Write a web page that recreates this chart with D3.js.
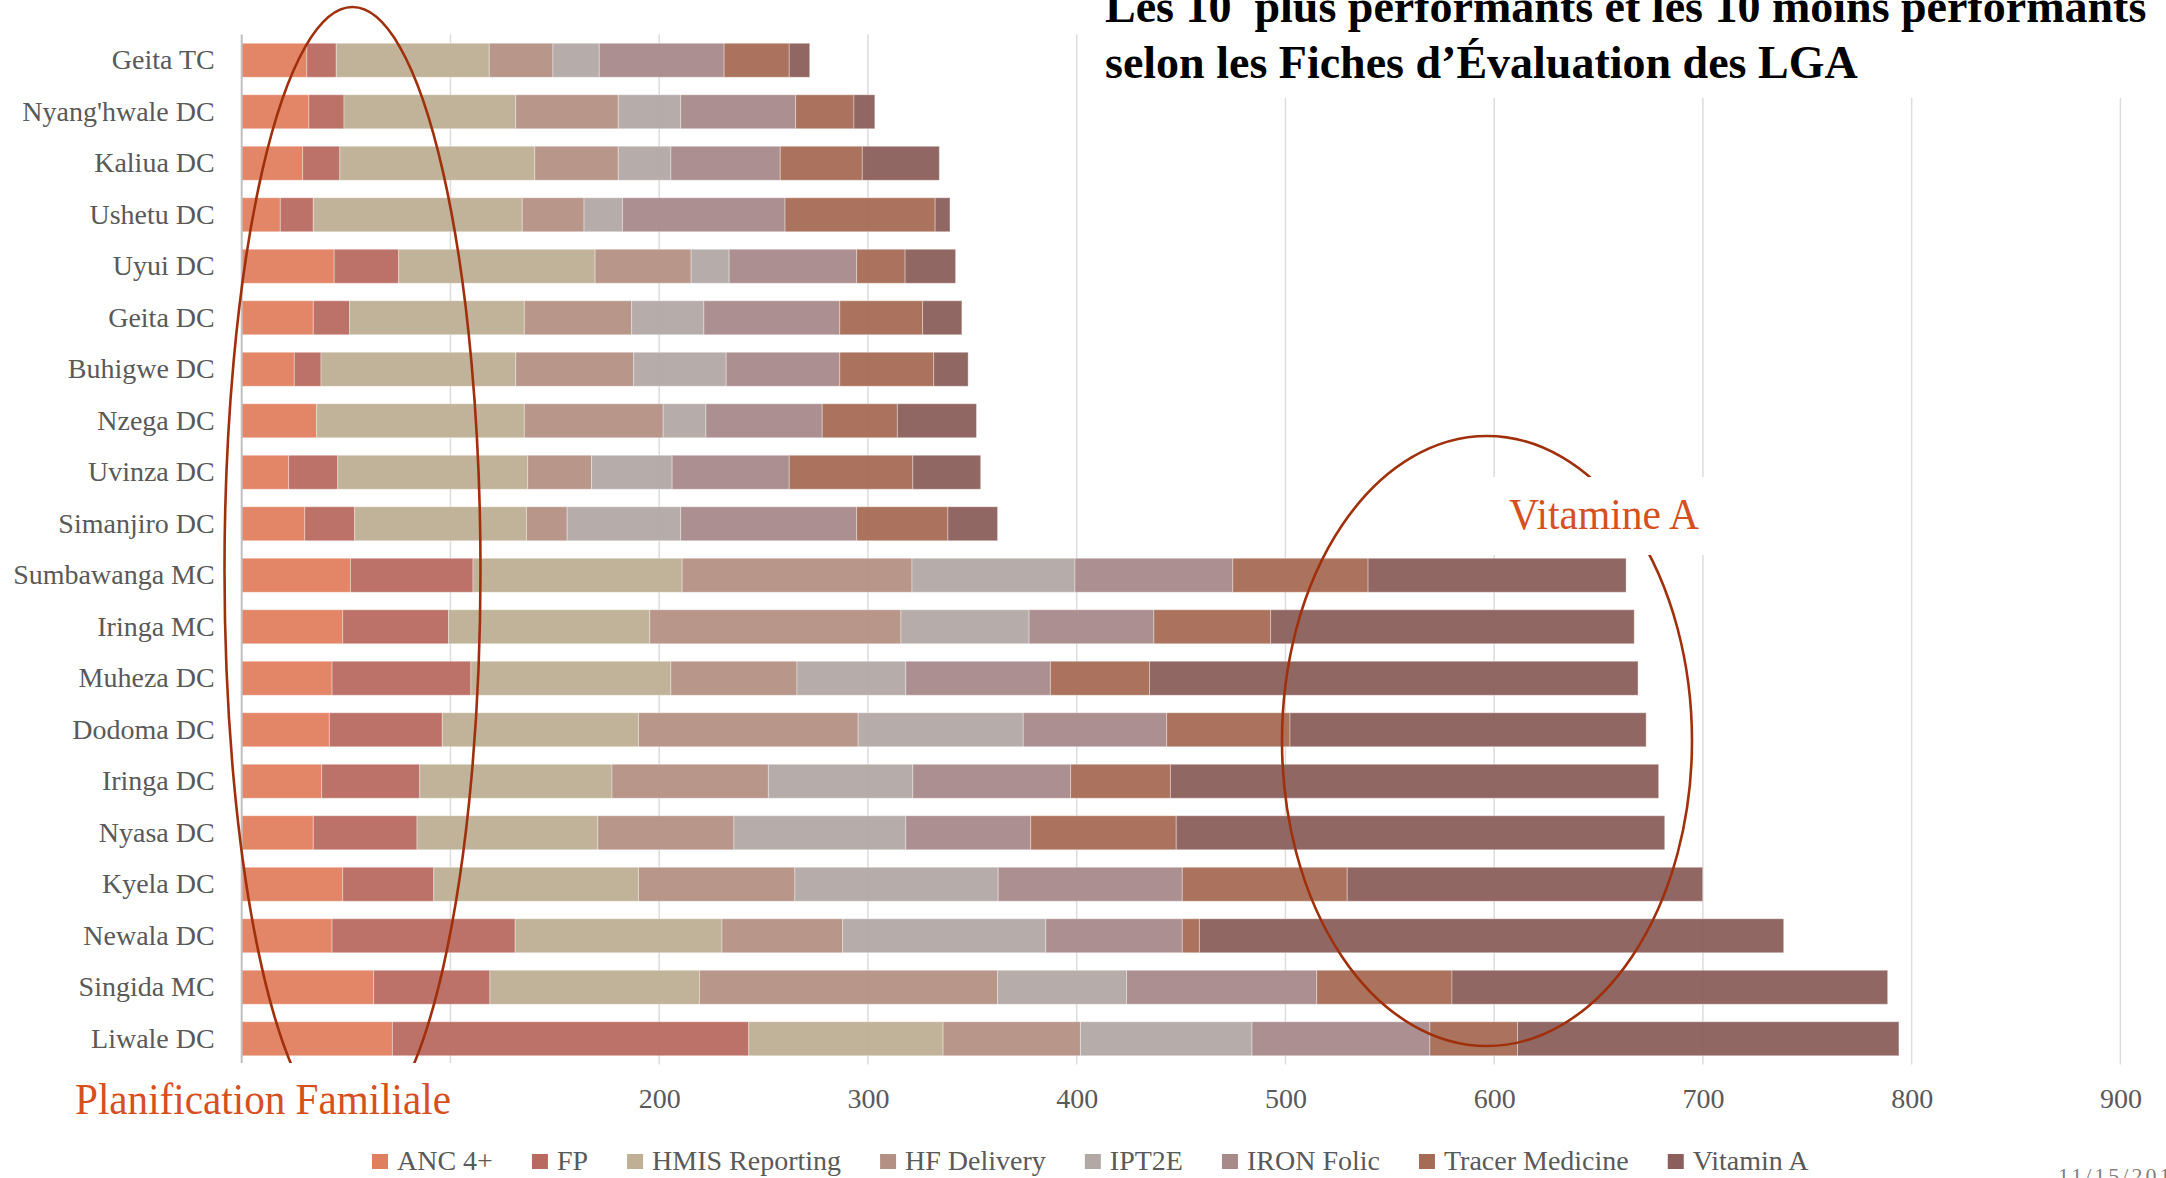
<!DOCTYPE html>
<html lang="fr">
<head>
<meta charset="utf-8">
<title>Fiches d'Évaluation des LGA</title>
<script src="https://cdn.jsdelivr.net/npm/d3@7"></script>
<style>
  html, body { margin: 0; padding: 0; background: #ffffff; overflow: hidden; }
  svg { display: block; }
  text { font-family: "Liberation Serif", "DejaVu Serif", serif; }
</style>
</head>
<body>
<svg id="chart" width="2166" height="1178"></svg>
<script>
// LGA names, top to bottom: the 10 best performers first, then the 10 weakest
const categories = [
  "Geita TC", "Nyang'hwale DC", "Kaliua DC", "Ushetu DC", "Uyui DC",
  "Geita DC", "Buhigwe DC", "Nzega DC", "Uvinza DC", "Simanjiro DC",
  "Sumbawanga MC", "Iringa MC", "Muheza DC", "Dodoma DC", "Iringa DC",
  "Nyasa DC", "Kyela DC", "Newala DC", "Singida MC", "Liwale DC"
];

const seriesKeys = ["ANC 4+", "FP", "HMIS Reporting", "HF Delivery", "IPT2E", "IRON Folic", "Tracer Medicine", "Vitamin A"];
const seriesColors = ["#e07f5f", "#b86a60", "#beaf95", "#b49084", "#b2a9a7", "#a88a8b", "#a66b55", "#8b5f5b"];

// Scores per indicator, in the same order as categories
const anc4   = [31.2, 32.2, 29.2, 18.5, 44.3, 34.3, 25.2, 35.9, 22.5, 30.2, 52.1, 48.4, 43.3, 42.0, 38.3, 34.3, 48.4, 43.3, 63.2, 72.2];
const fp     = [14.1, 16.8, 17.8, 15.8, 30.9, 17.4, 12.8, 0.0, 23.5, 23.9, 58.7, 50.7, 66.5, 54.1, 47.0, 49.7, 43.6, 87.7, 55.7, 170.7];
const hmis   = [73.3, 82.3, 93.4, 100.1, 94.1, 83.7, 93.3, 99.5, 91.0, 82.3, 100.2, 96.4, 95.8, 94.0, 92.1, 86.6, 98.1, 99.1, 100.4, 93.1];
const hfDel  = [30.5, 49.1, 40.0, 29.6, 46.0, 51.4, 56.5, 66.5, 30.6, 19.5, 110.1, 120.3, 60.4, 105.2, 74.9, 65.2, 74.9, 57.8, 142.8, 65.8];
const ipt2e  = [22.2, 29.9, 25.2, 18.4, 18.2, 34.6, 44.3, 20.5, 38.6, 54.4, 78.1, 61.4, 52.1, 79.1, 69.2, 82.3, 97.4, 97.3, 61.8, 82.2];
const iron   = [59.8, 55.1, 52.4, 77.9, 61.1, 65.1, 54.4, 55.7, 56.1, 84.3, 75.6, 59.8, 69.3, 68.7, 75.6, 59.9, 88.2, 65.4, 91.1, 85.2];
const tracer = [31.2, 27.9, 39.3, 71.9, 23.2, 39.7, 45.0, 36.0, 59.2, 43.7, 64.8, 55.9, 47.5, 59.1, 47.8, 69.7, 79.0, 8.2, 64.8, 42.0];
const vitA   = [9.8, 10.0, 36.9, 7.1, 24.2, 18.8, 16.5, 37.9, 32.5, 23.8, 123.6, 174.2, 234.0, 170.6, 233.9, 234.0, 170.3, 279.9, 208.7, 182.7];

// Gridline positions, and the tick labels left visible beside the callout box
const xTicks = [0, 100, 200, 300, 400, 500, 600, 700, 800, 900];
const xTickLabels = [200, 300, 400, 500, 600, 700, 800, 900];

const titleLines = ["Les 10  plus performants et les 10 moins performants", "selon les Fiches d\u2019\u00c9valuation des LGA"];

// Build the rows for d3.stack
const seriesValues = [anc4, fp, hmis, hfDel, ipt2e, iron, tracer, vitA];
const rows = categories.map((name, i) => {
  const r = { name };
  seriesKeys.forEach((k, j) => { r[k] = seriesValues[j][i]; });
  return r;
});
const stacked = d3.stack().keys(seriesKeys)(rows);
const color = d3.scaleOrdinal().domain(seriesKeys).range(seriesColors);

const svg = d3.select("#chart");
svg.append("rect").attr("width", 2166).attr("height", 1178).attr("fill", "#ffffff");

const x = d3.scaleLinear().domain([0, 900]).range([241.7, 2120.4]);
const y = d3.scaleBand().domain(categories).range([34.5, 1064.5]).paddingInner(0.34).paddingOuter(0.17);
const [plotTop, plotBottom] = y.range();

// Vertical gridlines
svg.append("g")
  .selectAll("line")
  .data(xTicks.filter(t => t > 0))
  .join("line")
  .attr("x1", d => x(d)).attr("x2", d => x(d))
  .attr("y1", plotTop).attr("y2", plotBottom)
  .attr("stroke", "#dcdcdc").attr("stroke-width", 1.5);

// Stacked bars
svg.append("g")
  .selectAll("g")
  .data(stacked)
  .join("g")
  .attr("fill", d => color(d.key))
  .selectAll("rect")
  .data(d => d)
  .join("rect")
  .attr("x", d => x(d[0]))
  .attr("y", d => y(d.data.name))
  .attr("width", d => x(d[1]) - x(d[0]))
  .attr("height", y.bandwidth())
  .attr("fill-opacity", 0.95)
  .attr("stroke", "#ffffff").attr("stroke-opacity", 0.35).attr("stroke-width", 1);

// Category axis line
svg.append("line")
  .attr("x1", x(0)).attr("x2", x(0))
  .attr("y1", plotTop).attr("y2", plotBottom)
  .attr("stroke", "#bfbfbf").attr("stroke-width", 2);

// Category labels
const yAxis = svg.append("g")
  .attr("transform", `translate(${x(0)},0)`)
  .call(d3.axisLeft(y).tickSize(0).tickPadding(27));
yAxis.select(".domain").remove();
yAxis.selectAll("text")
  .attr("font-family", "'Liberation Serif', serif")
  .attr("font-size", 28)
  .attr("fill", "#595959");

// Value axis labels
const xAxis = svg.append("g")
  .attr("transform", "translate(0,1088)")
  .call(d3.axisBottom(x).tickValues(xTickLabels).tickSize(0).tickPadding(0));
xAxis.select(".domain").remove();
xAxis.selectAll("text")
  .attr("font-family", "'Liberation Serif', serif")
  .attr("font-size", 28)
  .attr("fill", "#595959");

// Highlight ellipses
const accent = "#a0300c";
svg.append("ellipse")
  .attr("cx", 352.5).attr("cy", 570).attr("rx", 128).attr("ry", 563)
  .attr("fill", "none").attr("stroke", accent).attr("stroke-width", 2.6);
svg.append("ellipse")
  .attr("cx", 1487).attr("cy", 741).attr("rx", 205).attr("ry", 305)
  .attr("fill", "none").attr("stroke", accent).attr("stroke-width", 2.6);

// Callout labels on white boxes
const labelColor = "#d6501f";
svg.append("rect").attr("x", 55).attr("y", 1063).attr("width", 425).attr("height", 76).attr("fill", "#ffffff");
svg.append("text")
  .attr("x", 75).attr("y", 1114)
  .attr("font-size", 44).attr("fill", labelColor)
  .attr("textLength", 376).attr("lengthAdjust", "spacingAndGlyphs")
  .text("Planification Familiale");

svg.append("rect").attr("x", 1478).attr("y", 477).attr("width", 240).attr("height", 78).attr("fill", "#ffffff");
svg.append("text")
  .attr("x", 1509).attr("y", 529)
  .attr("font-size", 44).attr("fill", labelColor)
  .attr("textLength", 190).attr("lengthAdjust", "spacingAndGlyphs")
  .text("Vitamine A");

// Legend
const legend = svg.append("g").attr("transform", "translate(372,0)");
let lx = 0;
seriesKeys.forEach((k) => {
  const g = legend.append("g").attr("transform", `translate(${lx},0)`);
  g.append("rect").attr("x", 0).attr("y", 1154).attr("width", 16).attr("height", 15).attr("fill", color(k));
  const t = g.append("text")
    .attr("x", 25).attr("y", 1170)
    .attr("font-size", 28).attr("fill", "#595959")
    .text(k);
  lx += 25 + t.node().getComputedTextLength() + 39;
});

// Title
const title = svg.append("g");
title.append("rect").attr("x", 1090).attr("y", 0).attr("width", 1076).attr("height", 98).attr("fill", "#ffffff");
title.selectAll("text")
  .data(titleLines)
  .join("text")
  .attr("x", 1105)
  .attr("y", (d, i) => 22 + i * 56)
  .attr("font-size", 46)
  .attr("font-weight", "bold")
  .attr("fill", "#000000")
  .style("white-space", "pre")
  .text(d => d);

// Slide date
svg.append("text")
  .attr("x", 2058).attr("y", 1183)
  .attr("font-family", "'Liberation Sans', sans-serif")
  .attr("font-size", 22).attr("letter-spacing", 3)
  .attr("fill", "#7f7f7f")
  .text("11/15/2019");
</script>
</body>
</html>
